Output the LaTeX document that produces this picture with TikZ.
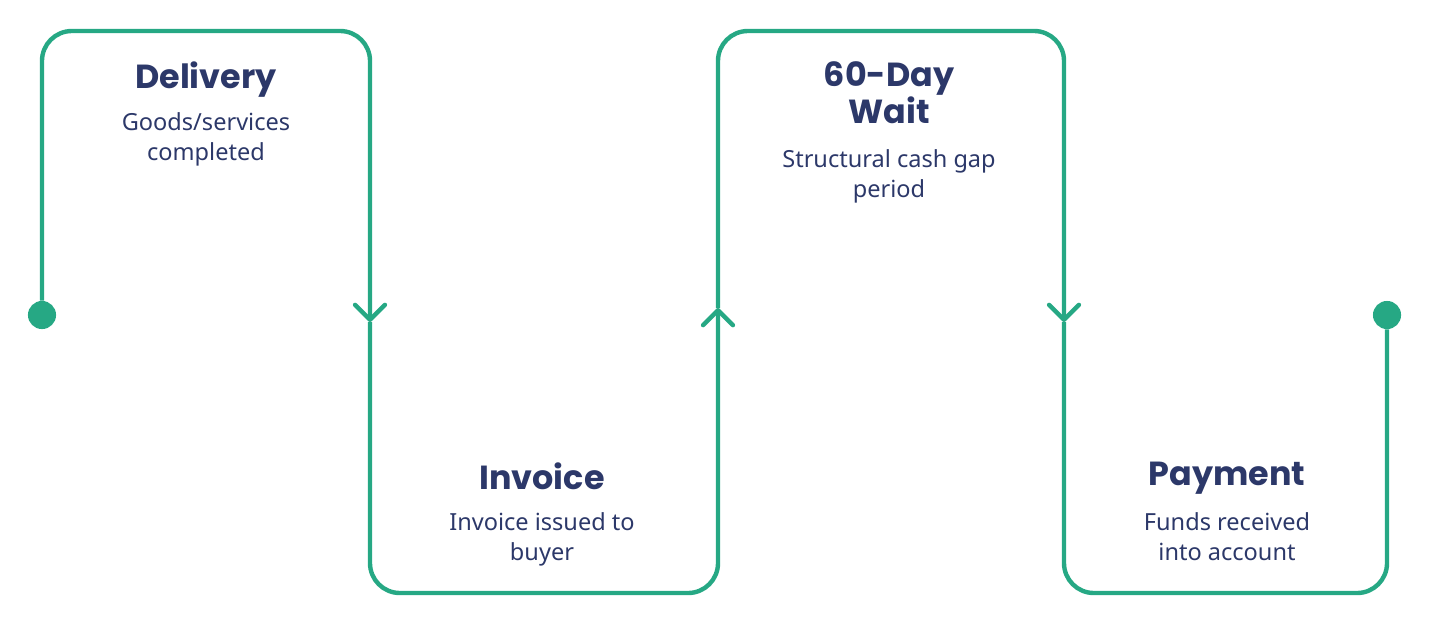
\documentclass[tikz,border=0pt]{standalone}
\usepackage{fontspec}
\setmainfont{Noto Sans}
\newfontfamily\titlefont{Poppins}
\usepackage{tikz}
\usetikzlibrary{arrows.meta}
\usetikzlibrary{positioning}
\definecolor{flowgreen}{RGB}{38,168,132}
\definecolor{inkblue}{RGB}{44,56,105}
\tikzstyle{flow}=[
        draw=flowgreen,
        line width=2.5pt,
        rounded corners=17pt
]
\tikzstyle{tip}=[-{Straight Barb[length=8.5pt,width=17pt,round]}]
\tikzstyle{dot}=[circle,fill=flowgreen,minimum size=16pt,inner sep=0pt]
\tikzstyle{title}=[anchor=north,inner sep=0pt,text=inkblue,align=center,
font=\titlefont\bfseries\fontsize{19}{21}\selectfont]
\tikzstyle{desc}=[anchor=north,inner sep=0pt,text=inkblue,align=center,
font=\fontsize{13.4}{17.4}\selectfont]

\begin{document}
\begin{tikzpicture}[x=0.02cm,y=-0.02cm]
\useasboundingbox (0,0) rectangle (1429,626);
\node[dot] (start) at (42,315) {};
\node[dot] (end) at (1387,315) {};
\node[title] (delivery) at (206,61) {Delivery};
\node[desc] (deliverytxt) at (206,112) {Goods/services\\completed};
\node[title] (invoice) at (542,462) {Invoice};
\node[desc] (invoicetxt) at (542,512) {Invoice issued to\\buyer};
\node[title] (wait) at (889,61) {60-Day\\Wait};
\node[desc] (waittxt) at (889,149) {Structural cash gap\\period};
\node[title] (payment) at (1227,462) {Payment};
\node[desc] (paymenttxt) at (1227,512) {Funds received\\into account};
%turning points of the line
\coordinate (topa) at (200,31);
\coordinate (bota) at (540,593);
\coordinate (topb) at (890,31);
\coordinate (botb) at (1220,593);
\coordinate (arra) at (370,322);
\coordinate (arrb) at (718,308);
\coordinate (arrc) at (1064,322);
\draw[flow,tip] (start) |- (topa) -| (arra);
\draw[flow,tip] (arra) |- (bota) -| (arrb);
\draw[flow,tip] (arrb) |- (topb) -| (arrc);
\draw[flow] (arrc) |- (botb) -| (end);
\end{tikzpicture}
\end{document}
